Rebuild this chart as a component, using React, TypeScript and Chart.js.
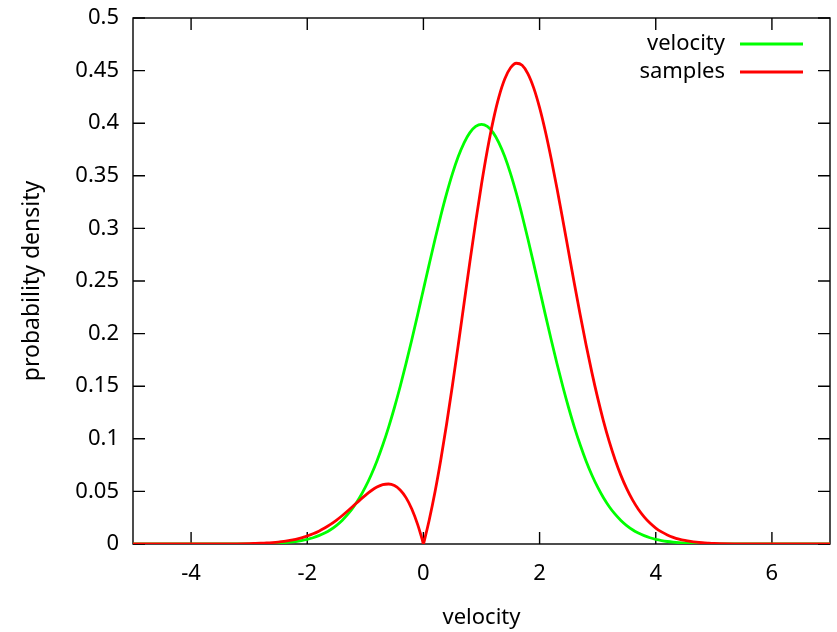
import React, { useEffect, useRef } from "react";
import { Chart, registerables } from "chart.js";

Chart.register(...registerables);

// velocity grid (x values)
const velocityX = [
  -5, -4.5, -4, -3.5,
  -3, -2.9, -2.8, -2.7, -2.6, -2.5, -2.4, -2.3, -2.2, -2.1,
  -2, -1.9, -1.8, -1.7, -1.6, -1.5, -1.4, -1.3, -1.2, -1.1,
  -1, -0.9, -0.8, -0.7, -0.6, -0.5, -0.4, -0.3, -0.2, -0.1,
  -0.02, 0, 0.02,
  0.1, 0.2, 0.3, 0.4, 0.5, 0.6, 0.7, 0.8, 0.9, 1,
  1.1, 1.2, 1.3, 1.4, 1.5, 1.6, 1.7, 1.8, 1.9, 2,
  2.1, 2.2, 2.3, 2.4, 2.5, 2.6, 2.7, 2.8, 2.9, 3,
  3.1, 3.2, 3.3, 3.4, 3.5, 3.6, 3.7, 3.8, 3.9, 4,
  4.1, 4.2, 4.3, 4.4, 4.5, 4.6, 4.7, 4.8, 4.9, 5,
  5.5, 6, 6.5, 7,
];

// "velocity" curve (green)
const velocityDensity = [
  0, 0, 0.0000015, 0.000016,
  0.00013, 0.0002, 0.00029, 0.00042, 0.00061, 0.00087, 0.00123, 0.00172, 0.00238, 0.00327,
  0.00443, 0.00595, 0.00792, 0.01042, 0.01358, 0.01753, 0.02239, 0.02833, 0.03547, 0.04398,
  0.05399, 0.06562, 0.07895, 0.09405, 0.11092, 0.12952, 0.14973, 0.17137, 0.19419, 0.21785,
  0.23717, 0.24197, 0.24681,
  0.26609, 0.28969, 0.31225, 0.33322, 0.35207, 0.36827, 0.38139, 0.39104, 0.39695, 0.39894,
  0.39695, 0.39104, 0.38139, 0.36827, 0.35207, 0.33322, 0.31225, 0.28969, 0.26609, 0.24197,
  0.21785, 0.19419, 0.17137, 0.14973, 0.12952, 0.11092, 0.09405, 0.07895, 0.06562, 0.05399,
  0.04398, 0.03547, 0.02833, 0.02239, 0.01753, 0.01358, 0.01042, 0.00792, 0.00595, 0.00443,
  0.00327, 0.00238, 0.00172, 0.00123, 0.00087, 0.00061, 0.00042, 0.00029, 0.0002, 0.00013,
  0.000016, 0.0000015, 0, 0,
];

// "samples" curve (red)
const samplesDensity = [
  0, 0, 0.000005, 0.00005,
  0.00033, 0.0005, 0.0007, 0.00097, 0.00136, 0.00186, 0.00253, 0.00339, 0.00449, 0.00589,
  0.00759, 0.00969, 0.01222, 0.01518, 0.01862, 0.02254, 0.02687, 0.03157, 0.03648, 0.04147,
  0.04628, 0.05062, 0.05414, 0.05643, 0.05705, 0.05551, 0.05134, 0.04407, 0.03329, 0.01867,
  0.00407, 0, 0.00423,
  0.02281, 0.04966, 0.0803, 0.11425, 0.15089, 0.1894, 0.22884, 0.26815, 0.30623, 0.34196,
  0.37428, 0.40223, 0.42499, 0.44194, 0.45268, 0.457, 0.45501, 0.44696, 0.43336, 0.41482,
  0.39214, 0.3662, 0.33786, 0.30803, 0.27755, 0.2472, 0.21767, 0.18949, 0.16312, 0.13884,
  0.11687, 0.09729, 0.08014, 0.06525, 0.05259, 0.04191, 0.03305, 0.0258, 0.01989, 0.01519,
  0.01149, 0.00857, 0.00634, 0.00464, 0.00336, 0.00241, 0.00169, 0.00119, 0.00084, 0.00056,
  0.000075, 0.0000077, 0, 0,
];

const seriesLabels = ["velocity", "samples"];
const xTickValues = [-4, -2, 0, 2, 4, 6];
const yTickValues = [0, 0.05, 0.1, 0.15, 0.2, 0.25, 0.3, 0.35, 0.4, 0.45, 0.5];

const FONT = "'Noto Sans', 'DejaVu Sans', sans-serif";
const FONT_SIZE = 22;
const TEXT_COLOR = "#000";
const GREEN = "#00ff00";
const RED = "#ff0000";

const framePlugin = {
  id: "gnuFrame",
  beforeDatasetsDraw(chart: any) {
    const { ctx, chartArea: a, scales } = chart;
    ctx.save();
    ctx.strokeStyle = "#000";
    ctx.lineWidth = 1.4;
    ctx.strokeRect(a.left, a.top, a.right - a.left, a.bottom - a.top);
    const L = 12;
    ctx.beginPath();
    scales.x.ticks.forEach((t: any) => {
      const px = scales.x.getPixelForValue(t.value);
      ctx.moveTo(px, a.bottom);
      ctx.lineTo(px, a.bottom - L);
      ctx.moveTo(px, a.top);
      ctx.lineTo(px, a.top + L);
    });
    scales.y.ticks.forEach((t: any) => {
      const py = scales.y.getPixelForValue(t.value);
      ctx.moveTo(a.left, py);
      ctx.lineTo(a.left + L, py);
      ctx.moveTo(a.right, py);
      ctx.lineTo(a.right - L, py);
    });
    ctx.stroke();
    ctx.restore();
  },
};

const keyPlugin = {
  id: "gnuKey",
  afterDatasetsDraw(chart: any) {
    const { ctx, chartArea: a } = chart;
    ctx.save();
    ctx.font = `${FONT_SIZE}px ${FONT}`;
    ctx.textAlign = "right";
    ctx.textBaseline = "middle";
    chart.data.datasets.forEach((ds: any, i: number) => {
      const y = a.top + 26 + i * 28;
      ctx.fillStyle = TEXT_COLOR;
      ctx.fillText(ds.label, a.right - 105, y);
      ctx.strokeStyle = ds.borderColor;
      ctx.lineWidth = 2.8;
      ctx.beginPath();
      ctx.moveTo(a.right - 90, y);
      ctx.lineTo(a.right - 27, y);
      ctx.stroke();
    });
    ctx.restore();
  },
};

export default function App() {
  const ref = useRef<HTMLCanvasElement | null>(null);

  useEffect(() => {
    if (!ref.current) return;
    const chart = new Chart(ref.current, {
      type: "line",
      data: {
        datasets: [
          {
            label: seriesLabels[0],
            data: velocityX.map((x, i) => ({ x, y: velocityDensity[i] })),
            borderColor: GREEN,
            backgroundColor: GREEN,
            borderWidth: 2.8,
            pointRadius: 0,
            cubicInterpolationMode: "monotone",
            fill: false,
            order: 1,
          },
          {
            label: seriesLabels[1],
            data: velocityX.map((x, i) => ({ x, y: samplesDensity[i] })),
            borderColor: RED,
            backgroundColor: RED,
            borderWidth: 2.8,
            pointRadius: 0,
            cubicInterpolationMode: "monotone",
            fill: false,
            order: 0,
          },
        ],
      },
      options: {
        animation: false,
        responsive: false,
        events: [],
        layout: { padding: { top: 18, right: 7, left: 0, bottom: 0 } },
        plugins: {
          legend: { display: false },
          tooltip: { enabled: false },
        },
        scales: {
          x: {
            type: "linear",
            min: -5,
            max: 7,
            afterBuildTicks: (s: any) => {
              s.ticks = xTickValues.map((v) => ({ value: v }));
            },
            afterFit: (s: any) => {
              s.height = 88;
              s.paddingLeft = 0;
              s.paddingRight = 0;
            },
            grid: { display: false, drawTicks: false },
            border: { display: false },
            ticks: {
              font: { family: FONT, size: FONT_SIZE },
              color: TEXT_COLOR,
              padding: 17,
              maxRotation: 0,
              autoSkip: false,
              callback: (v: any) => String(v),
            },
            title: {
              display: true,
              text: "velocity",
              font: { family: FONT, size: FONT_SIZE },
              color: TEXT_COLOR,
              padding: { top: 0, bottom: 1 },
            },
          },
          y: {
            type: "linear",
            min: 0,
            max: 0.5,
            afterBuildTicks: (s: any) => {
              s.ticks = yTickValues.map((v) => ({ value: v }));
            },
            afterFit: (s: any) => {
              s.width = 133;
              s.paddingTop = 0;
              s.paddingBottom = 0;
            },
            grid: { display: false, drawTicks: false },
            border: { display: false },
            ticks: {
              font: { family: FONT, size: FONT_SIZE },
              color: TEXT_COLOR,
              padding: 14,
              autoSkip: false,
              callback: (v: any) => String(v),
            },
            title: {
              display: true,
              text: "probability density",
              font: { family: FONT, size: 23 },
              color: TEXT_COLOR,
              padding: { top: 19, bottom: 0 },
            },
          },
        },
      },
      plugins: [framePlugin, keyPlugin],
    } as any);
    return () => chart.destroy();
  }, []);

  return (
    <div style={{ position: "absolute", left: 0, top: 0, width: 837, height: 632, background: "#fff" }}>
      <canvas ref={ref} width={837} height={632} style={{ width: 837, height: 632, display: "block" }} />
    </div>
  );
}
